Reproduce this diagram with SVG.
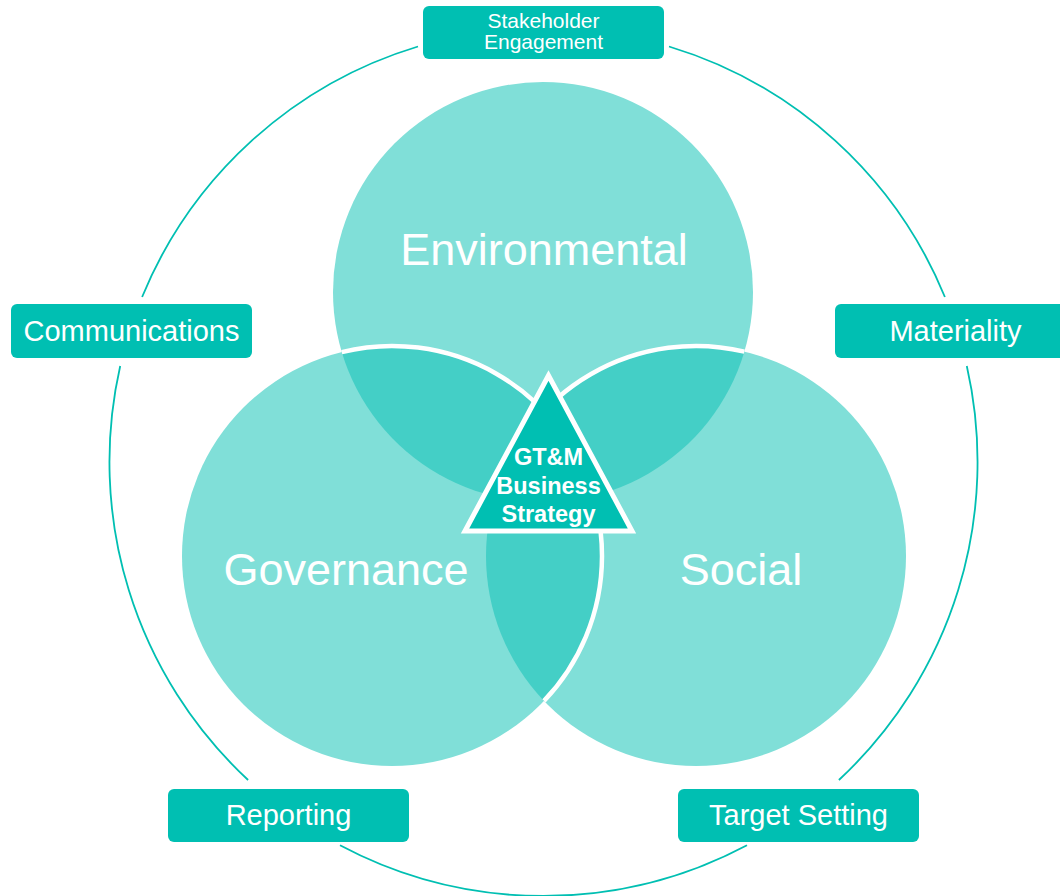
<svg xmlns="http://www.w3.org/2000/svg" width="1060" height="896" viewBox="0 0 1060 896">
  <style>
    .ring { fill: none; stroke: #00BFB2; stroke-width: 1.8; }
    .circ { fill: #80DFD8; }
    .lens { fill: #44CFC6; }
    .wline { fill: none; stroke: #FFFFFF; stroke-width: 4.5; }
    .box { fill: #00BFB2; }
    .boxtxt { font-family: "Liberation Sans", Arial, sans-serif; font-size: 29px; fill: #FFFFFF; text-anchor: middle; }
    .bigtxt { font-family: "Liberation Sans", Arial, sans-serif; font-size: 45px; fill: #FFFFFF; text-anchor: middle; }
    .tritxt { font-family: "Liberation Sans", Arial, sans-serif; font-size: 23.5px; font-weight: bold; fill: #FFFFFF; text-anchor: middle; }
  </style>
  <rect width="1060" height="896" fill="#FFFFFF"/>

  <g id="connectors">
    <path class="ring" d="M669,46.5 A434,434 0 0 1 944.9,297"/>
    <path class="ring" d="M966.8,366 A434,434 0 0 1 838.9,780"/>
    <path class="ring" d="M747,845.3 A434,434 0 0 1 340,845.3"/>
    <path class="ring" d="M248.1,780 A434,434 0 0 1 120.2,366"/>
    <path class="ring" d="M142.1,297 A434,434 0 0 1 418,46.5"/>
  </g>

  <g id="venn">
    <g id="environmental">
      <circle class="circ" cx="543" cy="292" r="210"/>
    </g>
    <g id="governance">
      <circle class="circ" cx="392" cy="556" r="210"/>
    </g>
    <g id="social">
      <circle class="circ" cx="696" cy="556" r="210"/>
    </g>
    <g id="overlaps">
      <path class="lens" d="M341.75,352.08 A210,210 0 0 1 593.25,495.92 A210,210 0 0 1 341.75,352.08 Z"/>
      <path class="lens" d="M494.65,496.35 A210,210 0 0 0 744.35,351.65 A210,210 0 0 0 494.65,496.35 Z"/>
      <path class="lens" d="M544,411.1 A210,210 0 0 1 544,700.9 A210,210 0 0 1 544,411.1 Z"/>
    </g>
    <g id="white-arcs">
      <path class="wline" d="M341.75,352.08 A210,210 0 0 1 593.25,495.92"/>
      <path class="wline" d="M494.65,496.35 A210,210 0 0 1 744.35,351.65"/>
      <path class="wline" d="M544,411.1 A210,210 0 0 1 544,700.9"/>
    </g>
    <text class="bigtxt" x="544" y="265">Environmental</text>
    <text class="bigtxt" x="346" y="585">Governance</text>
    <text class="bigtxt" x="741" y="585">Social</text>
  </g>

  <g id="strategy">
    <polygon points="548.5,375.5 465,531 632,531" fill="#00BFB2" stroke="#FFFFFF" stroke-width="5"/>
    <text class="tritxt" x="548.5" y="465">GT&amp;M</text>
    <text class="tritxt" x="548.5" y="494">Business</text>
    <text class="tritxt" x="548.5" y="522">Strategy</text>
  </g>

  <g id="stakeholder-engagement">
    <rect class="box" x="423" y="6" width="241" height="53" rx="6"/>
    <text class="boxtxt" style="font-size:21px" x="543.5" y="27.5">Stakeholder</text>
    <text class="boxtxt" style="font-size:21px" x="543.5" y="49">Engagement</text>
  </g>
  <g id="communications">
    <rect class="box" x="11" y="304" width="241" height="54" rx="6"/>
    <text class="boxtxt" x="131.5" y="341">Communications</text>
  </g>
  <g id="materiality">
    <rect class="box" x="835" y="304" width="241" height="54" rx="6"/>
    <text class="boxtxt" x="955.5" y="341">Materiality</text>
  </g>
  <g id="reporting">
    <rect class="box" x="168" y="789" width="241" height="53" rx="6"/>
    <text class="boxtxt" x="288.5" y="825">Reporting</text>
  </g>
  <g id="target-setting">
    <rect class="box" x="678" y="789" width="241" height="53" rx="6"/>
    <text class="boxtxt" x="798.5" y="825">Target Setting</text>
  </g>
</svg>
